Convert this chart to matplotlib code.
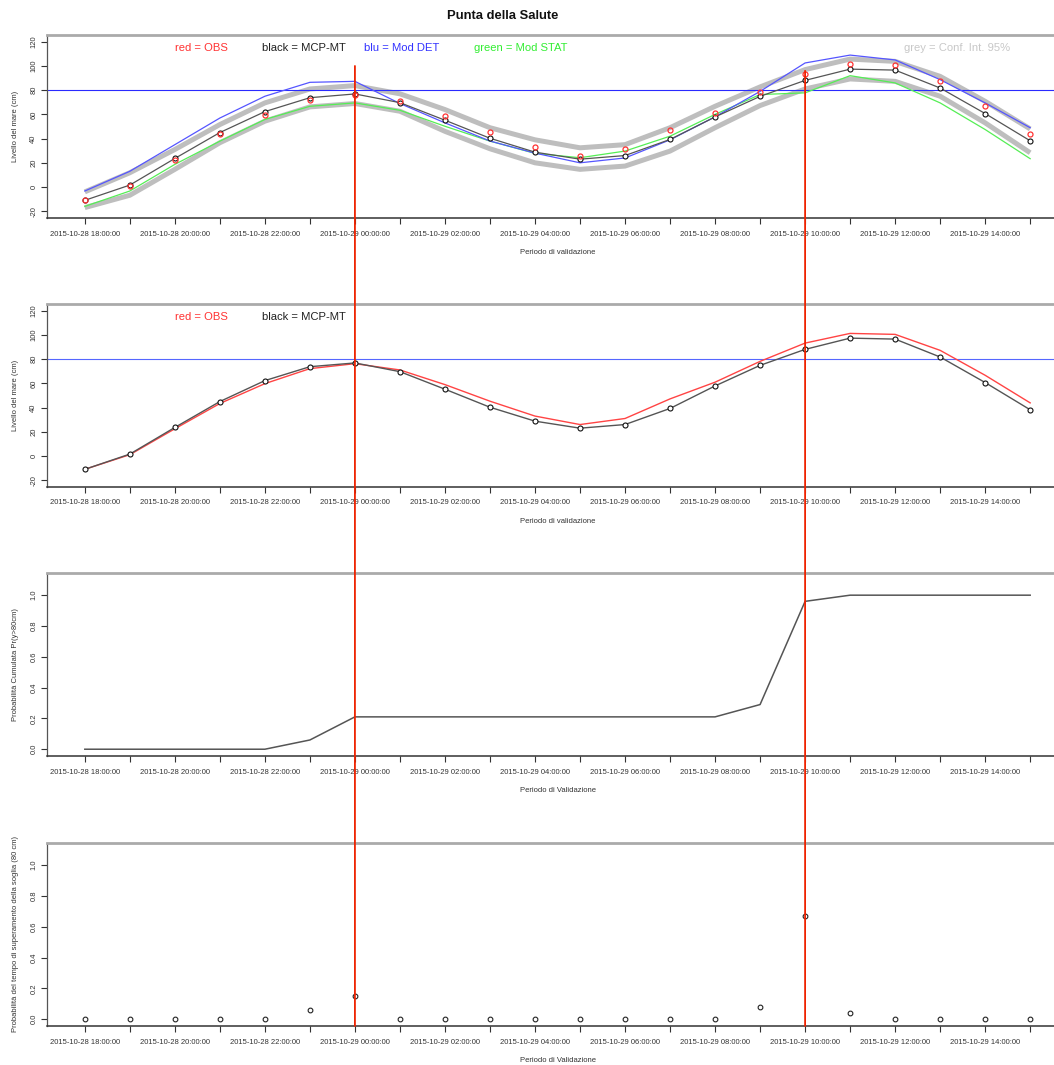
import numpy as np
import matplotlib.pyplot as plt
from matplotlib.patches import ConnectionPatch

plt.rcParams['font.family'] = ['Liberation Sans', 'DejaVu Sans']

# hourly time axis, 2015-10-28 18:00 -> 2015-10-29 15:00
times = ['2015-10-28 18:00:00', '2015-10-28 19:00:00', '2015-10-28 20:00:00',
         '2015-10-28 21:00:00', '2015-10-28 22:00:00', '2015-10-28 23:00:00',
         '2015-10-29 00:00:00', '2015-10-29 01:00:00', '2015-10-29 02:00:00',
         '2015-10-29 03:00:00', '2015-10-29 04:00:00', '2015-10-29 05:00:00',
         '2015-10-29 06:00:00', '2015-10-29 07:00:00', '2015-10-29 08:00:00',
         '2015-10-29 09:00:00', '2015-10-29 10:00:00', '2015-10-29 11:00:00',
         '2015-10-29 12:00:00', '2015-10-29 13:00:00', '2015-10-29 14:00:00',
         '2015-10-29 15:00:00']

obs = [-11, 1.1, 22.5, 43.4, 59.8, 72.2, 76.3, 71.1, 59, 45.3, 33,
       26, 31, 47.2, 61, 78.2, 93.3, 101.3, 100.5, 87.3, 66.7, 43.9]
mcp_mt = [-11, 1.6, 23.6, 45, 62.3, 73.8, 76.9, 69.7, 55.2, 40.3, 28.8,
          23, 26, 39.3, 57.9, 74.9, 88.1, 97.4, 96.6, 81.8, 60.7, 38.2]
mod_det = [-3.3, 13, 35, 57, 75, 86.5, 87.3, 69, 53, 38, 28,
           20, 24, 39, 58, 79, 102.5, 109, 105, 88.7, 69.5, 49]
mod_stat = [-16, -3.3, 18.7, 37.9, 55.8, 66.7, 69.5, 63.4, 50.2, 37.9, 27.8,
            24.2, 29.7, 42, 60, 76.4, 77.8, 92, 86, 69.5, 47.5, 23.4]
ci_upper = [-4, 11.8, 31, 51.6, 69.5, 81, 83.8, 77, 64, 49, 39,
            32.4, 35, 49, 66.7, 82.7, 97, 105.7, 103.8, 91.4, 70.8, 48]
ci_lower = [-17, -6.8, 14.6, 36.6, 54.4, 66.2, 69, 62.6, 46, 31.6, 20,
            14.6, 17.3, 29.7, 49, 67.3, 81, 89.3, 87.3, 75, 53, 28.3]
prob_cum = [0, 0, 0, 0, 0, 0.06, 0.21, 0.21, 0.21, 0.21, 0.21,
            0.21, 0.21, 0.21, 0.21, 0.29, 0.96, 1, 1, 1, 1, 1]
prob_time = [0, 0, 0, 0, 0, 0.058, 0.149, 0, 0, 0, 0,
             0, 0, 0, 0, 0.08, 0.672, 0.041, 0, 0, 0, 0]

threshold = 80
event_idx = [6, 16]       # red markers across all panels
event_top = [100, 96]     # where they start, in sea level units

x = np.arange(len(times))
xlim = (-0.84, len(times) - 1 + 0.84)

fig = plt.figure(figsize=(10.54, 10.65), dpi=100)
W, H = 1054, 1065
left, width = 47 / W, (1068 - 47) / W
tops = [35, 304, 573, 843]
hgt = 183


def base_axes(top_px, ylim, yticks, yticklabels, ylab, xlab):
    ax = fig.add_axes([left, 1 - (top_px + hgt) / H, width, hgt / H])
    ax.set_xlim(*xlim)
    ax.set_ylim(*ylim)
    ax.set_xticks(x)
    ax.set_xticklabels([t if i % 2 == 0 else '' for i, t in enumerate(times)])
    ax.set_yticks(yticks)
    ax.set_yticklabels(yticklabels, rotation=90, va='center')
    ax.tick_params(axis='both', labelsize=5.5, colors='#333333', labelcolor='#333333',
                   length=4, width=0.8)
    ax.tick_params(axis='x', pad=5)
    ax.tick_params(axis='y', pad=3)
    ax.spines['right'].set_visible(False)
    ax.spines['top'].set_color('#aaaaaa')
    ax.spines['top'].set_linewidth(2)
    ax.spines['left'].set_color('#555555')
    ax.spines['left'].set_linewidth(0.9)
    ax.spines['bottom'].set_color('#333333')
    ax.spines['bottom'].set_linewidth(1.1)
    ax.set_ylabel(ylab, fontsize=5.5, color='#333333', labelpad=8)
    ax.set_xlabel(xlab, fontsize=5.5, color='#333333', labelpad=8)
    return ax


lev_lim = (-25.6, 125.6)
lev_ticks = [-20, 0, 20, 40, 60, 80, 100, 120]
lev_labels = [str(v) for v in lev_ticks]
prob_lim = (-0.044, 1.144)
prob_ticks = [0.0, 0.2, 0.4, 0.6, 0.8, 1.0]
prob_labels = ['%.1f' % v for v in prob_ticks]

# panel 1: observations, MCP-MT, deterministic and statistical models
ax1 = base_axes(tops[0], lev_lim, lev_ticks, lev_labels,
                'Livello del mare (cm)', 'Periodo di validazione')
ax1.plot(x, ci_upper, color='#bebebe', lw=3.6, solid_capstyle='butt', zorder=1)
ax1.plot(x, ci_lower, color='#bebebe', lw=3.6, solid_capstyle='butt', zorder=1)
ax1.axhline(threshold, color='#2a2aff', lw=0.8, zorder=2)
ax1.plot(x, mod_stat, color='#55ee55', lw=0.9, zorder=3)
ax1.plot(x, mod_det, color='#5555ff', lw=0.9, zorder=3)
ax1.plot(x, mcp_mt, color='#555555', lw=0.9, marker='o', ms=3.6, mfc='white',
         mec='#111111', mew=0.8, zorder=4)
ax1.plot(x, obs, ls='none', marker='o', ms=3.6, mfc='none', mec='#ff3333', mew=0.9, zorder=5)
legend1 = [('red = OBS', '#ff3333', 2.6), ('black = MCP-MT', '#222222', 4.87),
           ('blu = Mod DET', '#3333ff', 7.04), ('green = Mod STAT', '#33ee33', 9.69),
           ('grey = Conf. Int. 95%', '#c8c8c8', 19.38)]
for txt, col, xp in legend1:
    ax1.text(xp, 114.5, txt, color=col, fontsize=8.1, ha='center', va='center')

# panel 2: observations vs MCP-MT
ax2 = base_axes(tops[1], lev_lim, lev_ticks, lev_labels,
                'Livello del mare (cm)', 'Periodo di validazione')
ax2.axhline(threshold, color='#5566ff', lw=0.8, zorder=1)
ax2.plot(x, obs, color='#ff4444', lw=1.0, zorder=2)
ax2.plot(x, mcp_mt, color='#555555', lw=1.0, marker='o', ms=3.6, mfc='white',
         mec='#111111', mew=0.8, zorder=3)
for txt, col, xp in legend1[:2]:
    ax2.text(xp, 114.5, txt, color=col, fontsize=8.1, ha='center', va='center')

# panel 3: cumulative exceedance probability
ax3 = base_axes(tops[2], prob_lim, prob_ticks, prob_labels,
                'Probabilità Cumulata Pr(y>80cm)', 'Periodo di Validazione')
ax3.plot(x, prob_cum, color='#555555', lw=1.1)

# panel 4: probability of the exceedance time
ax4 = base_axes(tops[3], prob_lim, prob_ticks, prob_labels,
                'Probabilità del tempo di superamento della soglia (80 cm)', 'Periodo di Validazione')
ax4.plot(x, prob_time, ls='none', marker='o', ms=3.4, mfc='none', mec='#222222', mew=0.8)

# vertical markers spanning all four panels
for xi, yt in zip(event_idx, event_top):
    con = ConnectionPatch(xyA=(xi, yt), coordsA=ax1.transData,
                          xyB=(xi, prob_lim[0]), coordsB=ax4.transData,
                          color='#ee2200', lw=1.3, zorder=10)
    fig.add_artist(con)

fig.text(503 / W, 1 - 16 / H, 'Punta della Salute', fontsize=9.4, fontweight='bold',
         ha='center', va='center', color='#111111')

fig.savefig('out.png', dpi=100)
